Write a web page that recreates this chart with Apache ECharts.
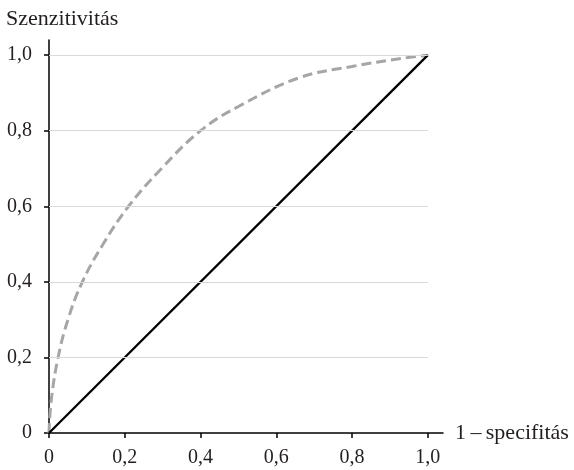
<!DOCTYPE html>
<html>
<head>
<meta charset="utf-8">
<script src="https://cdn.jsdelivr.net/npm/echarts@6/dist/echarts.min.js"></script>
<style>html,body{margin:0;padding:0;background:#fff}#c{width:574px;height:470px}</style>
</head>
<body>
<div id="c"></div>
<script>
const tickValues = [0, 0.2, 0.4, 0.6, 0.8, 1.0];
const tickLabels = ['0', '0,2', '0,4', '0,6', '0,8', '1,0'];
const gridValues = [0.2, 0.4, 0.6, 0.8, 1.0];
const rocX = [0, 0.006, 0.024, 0.05, 0.088, 0.143, 0.21, 0.297, 0.40, 0.50, 0.66, 0.80, 0.93, 1.0];
const rocY = [0, 0.087, 0.2, 0.3, 0.4, 0.5, 0.6, 0.7, 0.8, 0.864, 0.94, 0.97, 0.991, 1.0];
const diagX = [0, 1];
const diagY = [0, 1];
const yTitle = 'Szenzitivitás';
const xTitle = '1\u2009\u2013\u2009specifitás';

const font = '"Liberation Serif", "DejaVu Serif", serif';
const txt = '#231f20';
function fmt(v) {
  const i = tickValues.findIndex(t => Math.abs(t - v) < 1e-9);
  return i >= 0 ? tickLabels[i] : '';
}
const chart = echarts.init(document.getElementById('c'), null, {renderer: 'canvas'});
chart.setOption({
  animation: false,
  title: {text: yTitle, left: 6, top: 8, padding: 0, textStyle: {fontFamily: font, fontSize: 22, fontWeight: 'normal', color: txt}},
  grid: {left: 49, right: 131, top: 40, bottom: 37, containLabel: false},
  xAxis: {
    type: 'value', min: 0, max: 1.04,
    name: xTitle, nameLocation: 'end', nameGap: 12,
    nameTextStyle: {fontFamily: font, fontSize: 22, color: txt, verticalAlign: 'middle'},
    axisLine: {lineStyle: {color: '#000', width: 1.5}},
    axisTick: {show: true, length: 5, customValues: tickValues, lineStyle: {color: '#000', width: 1.5}},
    axisLabel: {customValues: tickValues, formatter: fmt, fontFamily: font, fontSize: 20, color: txt, margin: 15},
    splitLine: {show: false}
  },
  yAxis: {
    type: 'value', min: 0, max: 1.04,
    axisLine: {show: true, lineStyle: {color: '#000', width: 1.5}},
    axisTick: {show: true, length: 5, customValues: tickValues, lineStyle: {color: '#000', width: 1.5}},
    axisLabel: {customValues: tickValues, formatter: fmt, fontFamily: font, fontSize: 20, color: txt, margin: 17},
    splitLine: {show: false}
  },
  series: [
    {
      type: 'line', data: [], z: 1, silent: true,
      markLine: {
        silent: true, symbol: 'none', label: {show: false},
        lineStyle: {color: '#d9d9d9', width: 1, type: 'solid'},
        data: gridValues.map(v => [{coord: [0, v]}, {coord: [1, v]}])
      }
    },
    {
      type: 'line', data: rocX.map((x, i) => [x, rocY[i]]), smooth: 0.4, symbol: 'none',
      lineStyle: {color: '#a6a6a6', width: 3, type: [10, 5]}, z: 2
    },
    {
      type: 'line', data: diagX.map((x, i) => [x, diagY[i]]), symbol: 'none',
      lineStyle: {color: '#000', width: 2.3}, z: 3
    }
  ]
});
</script>
</body>
</html>
